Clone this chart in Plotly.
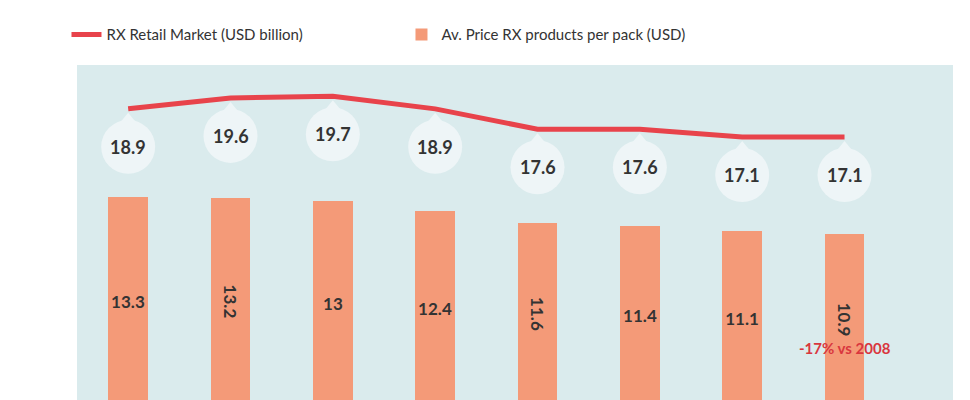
import plotly.graph_objects as go

years = ["2008", "2009", "2010", "2011", "2012", "2013", "2014", "2015"]
market = [18.9, 19.6, 19.7, 18.9, 17.6, 17.6, 17.1, 17.1]
price = [13.3, 13.2, 13.0, 12.4, 11.6, 11.4, 11.1, 10.9]
market_labels = ["18.9", "19.6", "19.7", "18.9", "17.6", "17.6", "17.1", "17.1"]
price_labels = ["13.3", "13.2", "13", "12.4", "11.6", "11.4", "11.1", "10.9"]

x = list(range(len(years)))
fig = go.Figure()
fig.add_trace(go.Scatter(x=x, y=market, mode="lines", name="RX Retail Market (USD billion)",
                         line=dict(color="#E8434B", width=5)))
fig.add_trace(go.Bar(x=x, y=price, name="Av. Price RX products per pack (USD)", width=0.39,
                     marker=dict(color="#F49A78", line=dict(width=0)),
                     text=["<b>%s</b>" % t for t in price_labels], textposition="inside",
                     insidetextanchor="middle",
                     textfont=dict(size=17, color="#333333", family="Lato")))

bub = "#EEF5F7"
for xi, v, lab in zip(x, market, market_labels):
    fig.add_shape(type="circle", xref="x", yref="y", xsizemode="pixel", ysizemode="pixel",
                  xanchor=xi, yanchor=v, x0=-27, x1=27, y0=-65, y1=-11,
                  fillcolor=bub, line=dict(width=0), layer="above")
    fig.add_shape(type="path", xref="x", yref="y", xsizemode="pixel", ysizemode="pixel",
                  xanchor=xi, yanchor=v, path="M -9 -15 L 0 -4 L 9 -15 Z",
                  fillcolor=bub, line=dict(width=0), layer="above")
    fig.add_annotation(x=xi, y=v, text="<b>%s</b>" % lab, showarrow=False, yshift=-38,
                       font=dict(size=18, color="#333333", family="Lato"))

fig.add_annotation(x=7, y=3.6, text="<b>-17% vs 2008</b>", showarrow=False,
                   font=dict(size=15, color="#D9363E", family="Lato"))

fig.update_layout(
    width=970, height=400, margin=dict(l=69, r=25, t=57, b=0),
    paper_bgcolor="white", plot_bgcolor="#DAEBED",
    font=dict(family="Lato", color="#333333"),
    showlegend=True, bargap=0,
    legend=dict(orientation="h", x=-0.012, xanchor="left", y=1.04, yanchor="bottom",
                font=dict(size=15, color="#333333"),
                traceorder="normal", entrywidth=290),
    xaxis=dict(range=[-0.5, 8.06], showgrid=False, showticklabels=False, zeroline=False),
    yaxis=dict(range=[-0.2, 21.7], showgrid=False, showticklabels=False, zeroline=False),
)
fig.write_html("out.html")
